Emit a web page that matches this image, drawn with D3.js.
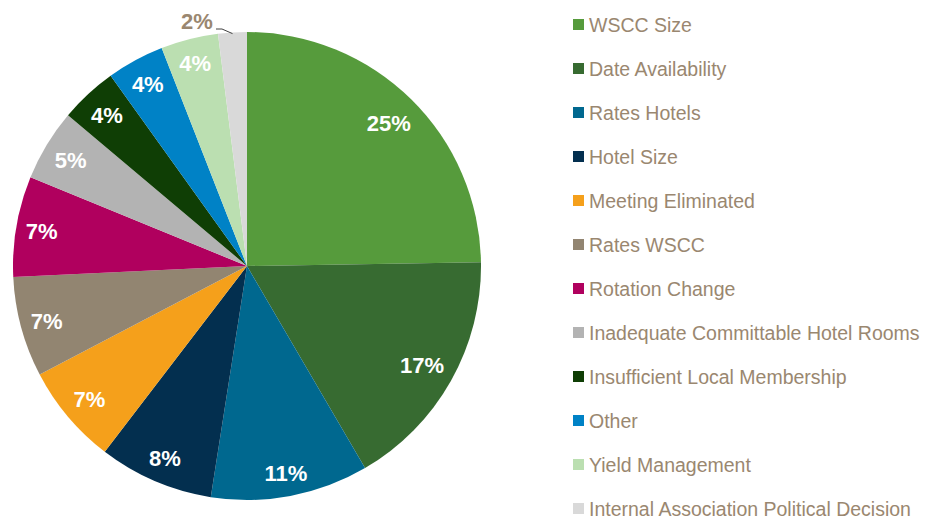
<!DOCTYPE html>
<html>
<head>
<meta charset="utf-8">
<script src="https://cdn.jsdelivr.net/npm/d3@7"></script>
<style>
  html, body { margin: 0; padding: 0; background: #ffffff; }
  svg { display: block; font-family: Arial, "Liberation Sans", sans-serif; }
</style>
</head>
<body>
<svg id="chart" width="932" height="519"></svg>
<script>
// Reasons cited, share of responses (%)
const categories = [
  "WSCC Size",
  "Date Availability",
  "Rates Hotels",
  "Hotel Size",
  "Meeting Eliminated",
  "Rates WSCC",
  "Rotation Change",
  "Inadequate Committable Hotel Rooms",
  "Insufficient Local Membership",
  "Other",
  "Yield Management",
  "Internal Association Political Decision"
];
const values = [25, 17, 11, 8, 7, 7, 7, 5, 4, 4, 4, 2];
const colors = [
  "#569b3c", "#376b31", "#00688f", "#032f4f", "#f5a01b", "#928571",
  "#b0005e", "#b3b3b3", "#0f3e05", "#0082c6", "#bbdfb1", "#d9d9d9"
];

const svg = d3.select("#chart");
const cx = 247, cy = 266, R = 234;
const textColor = "#9a8770";

const pie = d3.pie().sort(null).value(d => d.value);
const arcs = pie(categories.map((c, i) => ({ name: c, value: values[i], color: colors[i] })));
const arc = d3.arc().innerRadius(0).outerRadius(R);

const g = svg.append("g").attr("transform", `translate(${cx},${cy})`);

g.selectAll("path.slice")
  .data(arcs)
  .join("path")
  .attr("class", "slice")
  .attr("d", arc)
  .attr("fill", d => d.data.color);

// Data labels: placed just inside the outer edge of each slice
const fontSize = 22;
const margin = 8;
arcs.forEach((d, i) => {
  const mid = (d.startAngle + d.endAngle) / 2;
  const label = d.data.value + "%";
  if (i === arcs.length - 1) {
    // Smallest slice: label sits outside with a leader line
    const edge = [R * Math.sin(mid) * 0.995, -R * Math.cos(mid) * 0.995];
    const lx = -51, ly = -237;
    g.append("polyline")
      .attr("points", [[lx + 20, ly], [lx + 26, ly], edge].map(p => p.join(",")).join(" "))
      .attr("fill", "none")
      .attr("stroke", "#404040")
      .attr("stroke-width", 1);
    g.append("text")
      .attr("x", lx + 1)
      .attr("y", ly)
      .attr("text-anchor", "middle")
      .attr("font-size", fontSize)
      .attr("font-weight", "bold")
      .attr("fill", textColor)
      .text(label);
    return;
  }
  const t = g.append("text")
    .attr("text-anchor", "middle")
    .attr("dominant-baseline", "central")
    .attr("font-size", fontSize)
    .attr("font-weight", "bold")
    .attr("fill", "#ffffff")
    .text(label);
  const hw = t.node().getComputedTextLength() / 2;
  const hh = 12;
  const r = R - margin - (hw * Math.abs(Math.sin(mid)) + hh * Math.abs(Math.cos(mid)));
  t.attr("x", r * Math.sin(mid)).attr("y", -r * Math.cos(mid) + 1);
});

// Legend
const legend = svg.append("g").attr("transform", "translate(573,24.5)");
const rows = legend.selectAll("g.row")
  .data(arcs)
  .join("g")
  .attr("class", "row")
  .attr("transform", (d, i) => `translate(0,${i * 44})`);
rows.append("rect")
  .attr("x", 0).attr("y", -5.5)
  .attr("width", 11).attr("height", 11)
  .attr("fill", d => d.data.color);
rows.append("text")
  .attr("x", 16)
  .attr("y", 0)
  .attr("dominant-baseline", "central")
  .attr("font-size", 19.5)
  .attr("fill", textColor)
  .text(d => d.data.name);
</script>
</body>
</html>
